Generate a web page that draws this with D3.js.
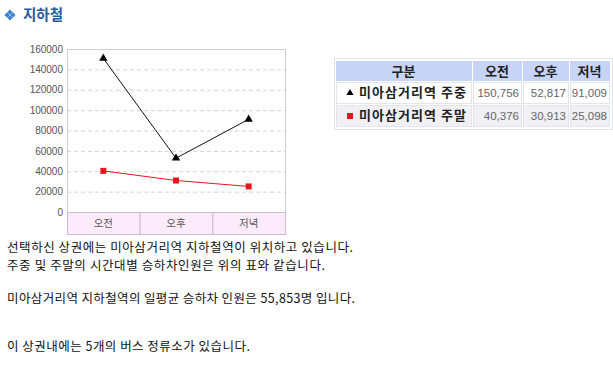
<!DOCTYPE html>
<html><head><meta charset="utf-8">
<script src="https://cdn.jsdelivr.net/npm/d3@7"></script>
<style>
html,body{margin:0;padding:0;background:#fff;}
svg{display:block;}
</style></head>
<body>
<svg id="chart" width="613" height="366"></svg>
<script>
const categories = ["오전", "오후", "저녁"];
const weekday = [150756, 52817, 91009];
const weekend = [40376, 30913, 25098];
const seriesNames = ["미아삼거리역 주중", "미아삼거리역 주말"];
const yTicks = [0, 20000, 40000, 60000, 80000, 100000, 120000, 140000, 160000];
const tableHeader = ["구분", "오전", "오후", "저녁"];
const title = "지하철";
const bodyLines = [
  "선택하신 상권에는 미아삼거리역 지하철역이 위치하고 있습니다.",
  "주중 및 주말의 시간대별 승하차인원은 위의 표와 같습니다.",
  "미아삼거리역 지하철역의 일평균 승하차 인원은 55,853명 입니다.",
  "이 상권내에는 5개의 버스 정류소가 있습니다."
];

(function () {
const svg = d3.select("#chart");
const KR = "'Noto Sans CJK KR','Noto Sans',sans-serif";
const NUM = "'Liberation Sans',Arial,sans-serif";

// Title icon: four small diamonds forming a diamond
const icx = 10, icy = 15, s = 2.7;
[[0, -1], [1, 0], [0, 1], [-1, 0]].forEach(([dx, dy]) => {
  const px = icx + dx * s * 1.05, py = icy + dy * s * 1.05;
  svg.append("path")
    .attr("d", `M${px},${py - s}L${px + s},${py}L${px},${py + s}L${px - s},${py}Z`)
    .attr("fill", "#3b82d4");
});
svg.append("text").attr("x", 23).attr("y", 20).attr("font-size", 14.5).attr("font-weight", "bold")
  .attr("fill", "#1f5c9c").attr("font-family", KR).attr("textLength", 40).attr("lengthAdjust", "spacing").text(title);

// Chart
const pLeft = 67, pRight = 285, pTop = 49, pBottom = 212, bandH = 22;
const y = d3.scaleLinear().domain([0, 160000]).range([pBottom, pTop]);
const x = d3.scaleBand().domain(categories).range([pLeft, pRight]).paddingInner(0).paddingOuter(0);
const cx = d => x(d) + x.bandwidth() / 2;

const g = svg.append("g");
g.selectAll("line.grid").data(yTicks.filter(t => t > 0 && t < 160000)).join("line")
  .attr("x1", pLeft).attr("x2", pRight).attr("y1", d => y(d) + 0.5).attr("y2", d => y(d) + 0.5)
  .attr("stroke", "#d4d4d4").attr("stroke-dasharray", "4,3");
g.append("rect").attr("x", pLeft + 0.5).attr("y", pTop + 0.5).attr("width", pRight - pLeft).attr("height", pBottom - pTop)
  .attr("fill", "none").attr("stroke", "#cfcfcf");
g.selectAll("rect.band").data(categories).join("rect")
  .attr("x", d => x(d) + 0.5).attr("y", pBottom + 0.5).attr("width", x.bandwidth()).attr("height", bandH)
  .attr("fill", "#fcecfb").attr("stroke", "#cdbccd");
g.selectAll("text.cat").data(categories).join("text")
  .attr("x", d => cx(d)).attr("y", pBottom + 15).attr("text-anchor", "middle")
  .attr("font-size", 10.5).attr("fill", "#555").attr("font-family", KR).text(d => d);
const yAxis = d3.axisLeft(y).tickValues(yTicks).tickSize(0).tickPadding(4).tickFormat(d3.format("d"));
const ya = g.append("g").attr("transform", `translate(${pLeft},0)`).call(yAxis);
ya.select(".domain").remove();
ya.selectAll("text").attr("font-size", 10).attr("fill", "#555").attr("font-family", NUM);

const line = d3.line().x((d, i) => cx(categories[i])).y(d => y(d));
g.append("path").datum(weekday).attr("d", line).attr("fill", "none").attr("stroke", "#111").attr("stroke-width", 1);
g.append("path").datum(weekend).attr("d", line).attr("fill", "none").attr("stroke", "#e8141e").attr("stroke-width", 1);
const tri = d3.symbol().type(d3.symbolTriangle).size(30);
g.selectAll("path.tri").data(weekday).join("path")
  .attr("transform", (d, i) => `translate(${cx(categories[i])},${y(d)})`).attr("d", tri).attr("fill", "#000");
g.selectAll("rect.sq").data(weekend).join("rect")
  .attr("x", (d, i) => cx(categories[i]) - 3).attr("y", d => y(d) - 3).attr("width", 6).attr("height", 6)
  .attr("fill", "#e8141e");

// Table
const tx = [336, 473, 523, 570, 611];
const ty = [61, 82, 105, 128];
const fmt = d3.format(",");
const tbl = svg.append("g");
tbl.append("rect").attr("x", tx[0] - 1.5).attr("y", ty[0] - 2.5).attr("width", tx[4] - tx[0] + 3).attr("height", ty[3] - ty[0] + 4)
  .attr("fill", "#fff").attr("stroke", "#e2e2ea");
const rowFill = ["#c8d4f6", "#ffffff", "#f0f0f5"];
for (let r = 0; r < 3; r++) {
  for (let c = 0; c < 4; c++) {
    tbl.append("rect").attr("x", tx[c] + 0.5).attr("y", ty[r] + 0.5)
      .attr("width", tx[c + 1] - tx[c] - 2).attr("height", ty[r + 1] - ty[r] - 2)
      .attr("fill", rowFill[r]).attr("stroke", r === 0 ? "#c8d4f6" : "#e4e4ec");
  }
}
tableHeader.forEach((h, c) => {
  tbl.append("text").attr("x", (tx[c] + tx[c + 1] - 2) / 2).attr("y", ty[0] + 15).attr("text-anchor", "middle")
    .attr("font-size", 13).attr("font-weight", "bold").attr("fill", "#222").attr("font-family", KR).text(h);
});
[weekday, weekend].forEach((vals, r) => {
  const yy = ty[r + 1] + 15;
  tbl.append("text").attr("x", 359).attr("y", yy).attr("font-size", 13).attr("font-weight", "bold")
    .attr("fill", "#222").attr("font-family", KR).attr("textLength", 107).attr("lengthAdjust", "spacing").text(seriesNames[r]);
  vals.forEach((v, c) => {
    tbl.append("text").attr("x", tx[c + 2] - 4).attr("y", yy).attr("text-anchor", "end")
      .attr("font-size", 11.5).attr("fill", "#666").attr("font-family", NUM).text(fmt(v));
  });
});
tbl.append("path").attr("transform", `translate(350,${ty[1] + 11})`).attr("d", d3.symbol().type(d3.symbolTriangle).size(22)).attr("fill", "#000");
tbl.append("rect").attr("x", 347).attr("y", ty[2] + 8).attr("width", 6).attr("height", 6).attr("fill", "#e8141e");

// Body text
const lineY = [248, 266, 299, 347];
const lineW = [346, 318, 348, 243];
bodyLines.forEach((t, i) => {
  svg.append("text").attr("x", 7).attr("y", lineY[i] + 4).attr("font-size", 12.5).attr("fill", "#111")
    .attr("font-family", KR).attr("textLength", lineW[i]).attr("lengthAdjust", "spacing").text(t);
});
})();
</script>
</body></html>
